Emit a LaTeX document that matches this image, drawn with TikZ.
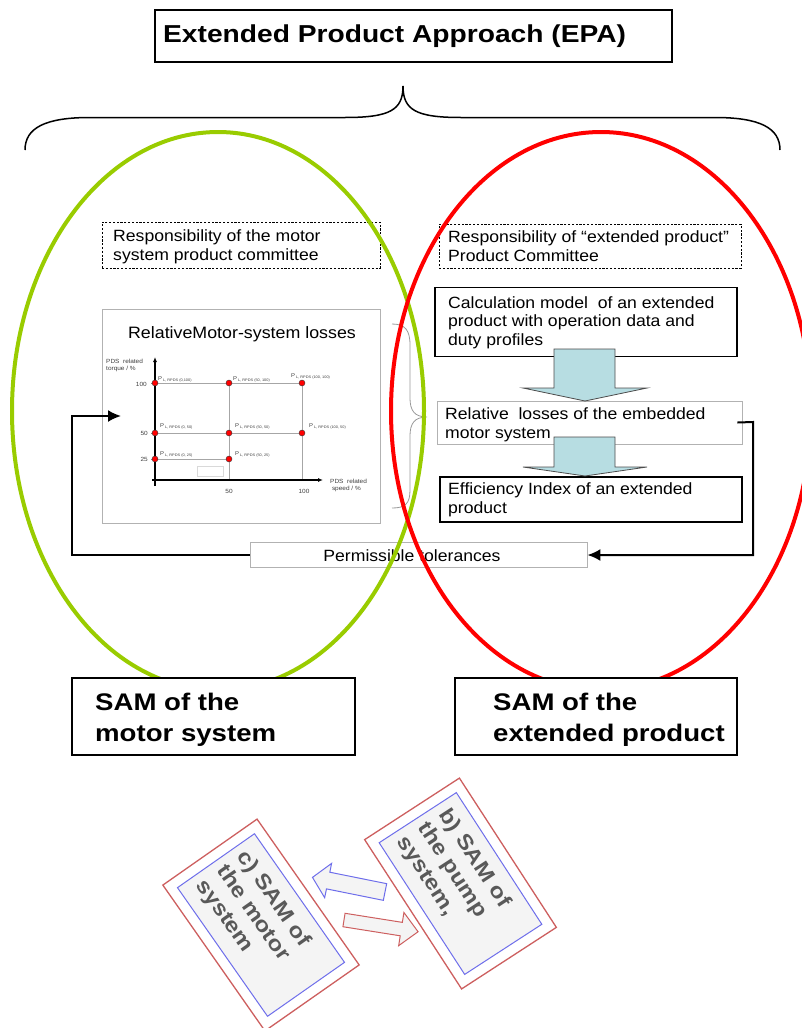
\documentclass[tikz,border=0pt]{standalone}
\usepackage{fontspec}
\setmainfont{Liberation Sans}[FakeStretch=1.08]
\newfontfamily\widebf{Liberation Sans}[FakeStretch=1.15,BoldFont={Liberation Sans Bold}]
\usetikzlibrary{arrows.meta,calc}
\definecolor{lgreen}{RGB}{153,204,0}
\definecolor{ablue}{RGB}{183,221,226}
\definecolor{cardred}{RGB}{205,95,95}
\definecolor{cardblue}{RGB}{110,110,235}
\definecolor{cardfill}{RGB}{244,244,244}
\begin{document}
\begin{tikzpicture}[x=1pt,y=-1pt,
  box/.style={draw, line width=1.2pt, inner sep=0, fill=white},
  thinbox/.style={draw=gray!60, line width=0.8pt, inner sep=0, fill=white},
  dbox/.style={draw, line width=1pt, dash pattern=on 2.2pt off 1.6pt, inner sep=0},
  lbl/.style={anchor=base west, inner sep=0, align=left, font=\fontsize{16.3}{18.7}\selectfont},
  bigl/.style={anchor=base west, inner sep=0, align=left, font=\widebf\bfseries\fontsize{24}{31}\selectfont},
  small/.style={inner sep=0, font=\fontsize{6}{7}\selectfont, text=black!75},
  ptl/.style={anchor=west, inner sep=0, font=\fontsize{5.5}{6}\selectfont, text=black!75},
  pt/.style={circle, fill=red, draw=black!80, line width=0.4pt, inner sep=0, minimum size=6pt},
  blockarrow/.style={fill=ablue, draw=gray!60!black, line width=0.8pt},
  conn/.style={line width=2pt, -{Latex[length=13pt,width=12pt]}},
  card/.style={draw=cardred, line width=1.3pt, fill=white, inner sep=0},
  cardin/.style={draw=cardblue, line width=1pt, fill=cardfill, inner sep=0},
  cardtxt/.style={inner sep=0, text width=140pt, align=left, text=gray!70!black, font=\widebf\bfseries\fontsize{21}{25}\selectfont},
  cardarrow/.style={fill=cardfill, line width=1pt}
]
\useasboundingbox (0,0) rectangle (802,1028);

% title
\node[box, minimum width=517pt, minimum height=52pt] (title) at (413.5,36) {};
\node[bigl, font=\widebf\bfseries\fontsize{24.5}{29}\selectfont] (titletext) at (163,42.5) {Extended Product Approach (EPA)};

% big brace
\draw[line width=1.5pt] (25,150) .. controls (25,128) and (45,117.5) .. (90,117.5) -- (345,117.5)
  .. controls (390,117.5) and (403,110) .. (403,86)
  .. controls (403,110) and (416,117.5) .. (461,117.5) -- (715,117.5)
  .. controls (760,117.5) and (780,128) .. (780,150);

% responsibility boxes
\node[dbox, minimum width=278pt, minimum height=46pt] (respL) at (241,245) {};
\node[lbl] (respLt) at (113,260.5) {Responsibility of the motor\\system product committee};
\node[dbox, minimum width=302pt, minimum height=44pt] (respR) at (590,246) {};
\node[lbl] (respRt) at (448,261.5) {Responsibility of “extended product”\\Product Committee};

% chart
\node[thinbox, minimum width=278pt, minimum height=214pt] (chart) at (241,416) {};
\node[anchor=base, inner sep=0, font=\fontsize{16.5}{19}\selectfont] (charttitle) at (242,338) {RelativeMotor-system losses};
\draw[gray!70, line width=1pt] (155,383) -- (302,383) (155,433) -- (302,433) (155,459) -- (229,459)
  (229,383) -- (229,480) (302,383) -- (302,480);
\draw[gray!30, line width=0.6pt] (197,466) rectangle (223,476);
\draw[line width=1.3pt, -{Latex[length=5pt,width=4pt]}] (155,486) -- (155,357);
\draw[line width=1.3pt, -{Latex[length=5pt,width=4pt]}] (152,480) -- (323,480);
\draw[gray, line width=0.6pt] (151,383) -- (155,383) (151,433) -- (155,433) (151,459) -- (155,459);
\node[small, anchor=west, align=left] (ylab) at (106,365) {PDS\ \ related\\torque / \%};
\node[small, anchor=west, align=left] (xlab) at (330,485) {PDS\ \ related\\\ speed / \%};
\node[small, anchor=east] (t100) at (147,384) {100};
\node[small, anchor=east] (t50) at (148,433) {50};
\node[small, anchor=east] (t25) at (148,459) {25};
\node[small] (s50) at (229,491) {50};
\node[small] (s100) at (304,491) {100};
\foreach \px/\py/\lx/\ly/\s [count=\i] in {155/383/158/379/{(0,100)}, 229/383/233/379/{(50, 100)}, 302/383/291/376/{(100, 100)},
  155/433/160/426/{(0, 50)}, 229/433/235/426/{(50, 50)}, 302/433/309/426/{(100, 50)},
  155/459/160/454/{(0, 25)}, 229/459/235/454/{(50, 25)}}{
  \node[pt] (p\i) at (\px,\py) {};
  \node[ptl] (pl\i) at (\lx,\ly) {P\,\raisebox{-1pt}{\fontsize{3.6}{4}\selectfont L, RPDS \s}};
}

% small brace
\draw[gray!80, line width=0.8pt] (392,324) .. controls (405,324) and (410,330) .. (410,345) -- (410,398)
  .. controls (410,410) and (414,417) .. (427,417)
  .. controls (414,417) and (410,424) .. (410,436) -- (410,490)
  .. controls (410,504) and (405,508) .. (392,508);

% right column
\node[box, minimum width=302pt, minimum height=69pt] (calc) at (586,322) {};
\node[lbl] (calct) at (448,345.5) {Calculation model\ \ of an extended\\product with operation data and\\duty profiles};
\node[thinbox, minimum width=305pt, minimum height=43pt] (rel) at (589.5,422.5) {};
\node[lbl] (relt) at (445,438) {Relative\ \ losses of the embedded\\motor system};
\node[box, line width=2.4pt, minimum width=302pt, minimum height=45pt] (eff) at (591,499.5) {};
\node[lbl] (efft) at (448,513.5) {Efficiency Index of an extended\\product};

\draw[blockarrow] (554,349) -- (615,349) -- (615,388) -- (647,388) -- (585,401) -- (523,388) -- (554,388) -- cycle;
\draw[blockarrow] (554,437) -- (615,437) -- (615,467) -- (647,467) -- (585,476) -- (523,467) -- (554,467) -- cycle;

% permissible tolerances
\node[thinbox, minimum width=337pt, minimum height=25pt] (perm) at (418.5,555) {};
\node[anchor=base, inner sep=0, font=\fontsize{16.3}{18.5}\selectfont] (permt) at (412,561.5) {Permissible tolerances};

% connectors
\coordinate (relout) at ($(rel.east)+(-5,0)$);
\coordinate (chartin) at (121,416);
\draw[conn] (relout) -- (753,422) |- (perm.east);
\draw[conn] (perm.west) -| ($(chartin)+(-49,0)$) -- (chartin);

% ellipses
\draw[lgreen, line width=4pt] (218,411) ellipse [x radius=206pt, y radius=279pt];
\draw[red, line width=4pt] (601,411) ellipse [x radius=210pt, y radius=279pt];

% SAM boxes
\node[box, minimum width=283pt, minimum height=77pt] (samL) at (213.5,716.5) {};
\node[bigl] (samLt) at (95,741) {SAM of the\\motor system};
\node[box, minimum width=282pt, minimum height=77pt] (samR) at (596,716.5) {};
\node[bigl] (samRt) at (493,741) {SAM of the\\extended product};

% cards
\node[card, rotate=-55, minimum width=178pt, minimum height=115pt] (cardc) at (261,925) {};
\node[cardin, rotate=-55, minimum width=157pt, minimum height=94pt] (cardcin) at (cardc.center) {};
\node[cardtxt, rotate=-55] (cardct) at (cardc.center) {c) SAM of\\the motor\\system};
\node[card, rotate=-57, minimum width=178pt, minimum height=113pt] (cardb) at (460.5,883.5) {};
\node[cardin, rotate=-57, minimum width=157pt, minimum height=92pt] (cardbin) at (cardb.center) {};
\node[cardtxt, rotate=-57] (cardbt) at (cardb.center) {b) SAM of\\the pump\\system,};

\begin{scope}[shift={(385,892)}, rotate=168.6]
\draw[cardarrow, draw=cardblue] (0,-8.5) -- (58,-8.5) -- (58,-17.5) -- (74,0) -- (58,17.5) -- (58,8.5) -- (0,8.5) -- cycle;
\end{scope}
\begin{scope}[shift={(344,920)}, rotate=-9]
\draw[cardarrow, draw=cardred] (0,-6.8) -- (58,-6.8) -- (58,-16.8) -- (75,0) -- (58,16.8) -- (58,6.8) -- (0,6.8) -- cycle;
\end{scope}
\end{tikzpicture}
\end{document}
